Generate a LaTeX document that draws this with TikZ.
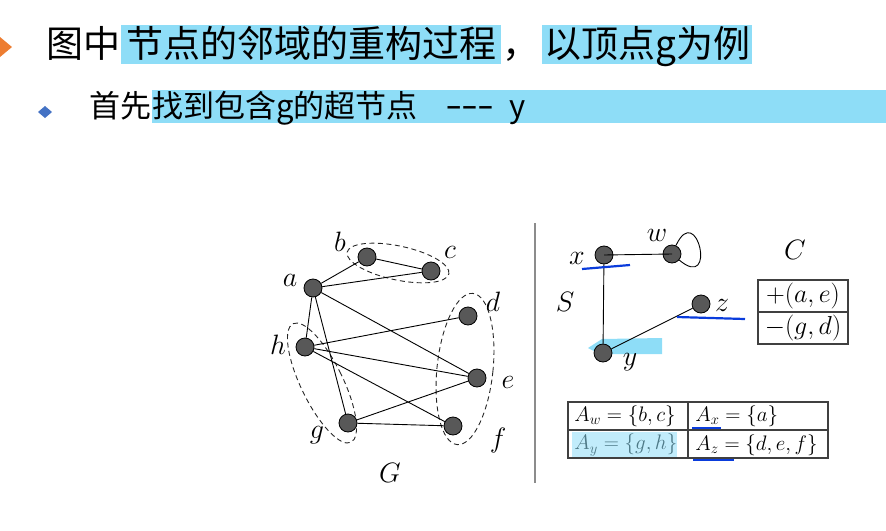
\documentclass[tikz,border=0pt]{standalone}
\usepackage{fix-cm}
\usepackage{fontspec}
\newfontfamily\cjk{Noto Sans CJK SC}
\newfontfamily\latn{Liberation Sans}
\usepackage{tikz}
\usetikzlibrary{positioning,calc}
\definecolor{hlcyan}{RGB}{142,221,247}
\definecolor{inkblue}{RGB}{10,60,220}
\definecolor{nodegray}{RGB}{88,88,88}
\definecolor{mkorange}{RGB}{237,125,49}
\definecolor{mkblue}{RGB}{68,114,196}
\tikzset{
  vtx/.style={circle,draw=black,fill=nodegray,line width=0.8pt,minimum size=18pt,inner sep=0pt},
  lbl/.style={inner sep=0pt,font=\fontsize{28}{33}\selectfont},
  cell/.style={inner sep=0pt,font=\fontsize{21}{25}\selectfont},
  bigcell/.style={inner sep=0pt,font=\fontsize{26}{31}\selectfont},
  grp/.style={draw=black!85,line width=0.9pt,dash pattern=on 5pt off 3.5pt},
  tbl/.style={draw=black!75,line width=1.2pt},
  ul/.style={draw=inkblue,line width=2.2pt},
  hl/.style={fill=hlcyan},
  headA/.style={inner sep=0pt,font=\cjk\fontsize{37}{42}\selectfont,text height=32pt,text depth=7pt},
  headB/.style={inner sep=0pt,font=\cjk\fontsize{31}{36}\selectfont,text height=27pt,text depth=6pt},
}

\begin{document}
\begin{tikzpicture}[x=1pt,y=-1pt,line width=0.9pt]
\useasboundingbox (0,0) rectangle (886,530);

% heading
\fill[mkorange] (0,37) -- (12,47) -- (0,57) -- cycle;
\node[headA,anchor=west] (t1a) at (46,44.5) {图中};
\node[headA,hl,right=0pt of t1a,minimum width=380pt] (t1b) {节点的邻域的重构过程};
\node[headA,right=0pt of t1b] (t1c) {，};
\node[headA,hl,right=2pt of t1c,inner xsep=2pt] (t1d) {以顶点g为例};

\fill[mkblue] (38,112) -- (45,106) -- (52,112) -- (45,118) -- cycle;
\node[headB,anchor=west] (t2a) at (89,106.5) {首先};
\node[headB,hl,right=0pt of t2a,text width=735pt,align=left] (t2b)
  {找到包含g的超节点\hspace{29pt}\raisebox{3pt}{\latn\bfseries\fontsize{25}{30}\selectfont –\kern2pt–\kern2pt–}\hspace{17pt}y};

% graph G
\draw[grp,rotate around={-12:(398,263)}] (398,263) ellipse [x radius=52pt,y radius=17pt];
\draw[grp,rotate around={-6:(465,369)}] (465,369) ellipse [x radius=28pt,y radius=76pt];
\draw[grp,rotate around={26:(322,383)}] (322,383) ellipse [x radius=21pt,y radius=66pt];

\node[vtx] (a) at (313,288) {};
\node[vtx] (b) at (367,257) {};
\node[vtx] (c) at (431,271) {};
\node[vtx] (d) at (468,316) {};
\node[vtx] (h) at (305,347) {};
\node[vtx] (e) at (477,378) {};
\node[vtx] (g) at (348,423) {};
\node[vtx] (f) at (453,426) {};

\draw (a) -- (b) (b) -- (c) (a) -- (c) (a) -- (h) (a) -- (g) (a) -- (e)
      (h) -- (d) (h) -- (e) (h) -- (f) (g) -- (e) (g) -- (f);

\node[lbl] (la) at (290,280) {$a$};
\node[lbl] (lb) at (340,242) {$b$};
\node[lbl] (lc) at (450,252) {$c$};
\node[lbl] (ld) at (493,302) {$d$};
\node[lbl] (lh) at (278,345) {$h$};
\node[lbl] (le) at (508,382) {$e$};
\node[lbl] (lg) at (317,435) {$g$};
\node[lbl] (lf) at (498,440) {$f$};
\node[lbl] (lG) at (390,473) {$G$};

\draw[draw=black!45,line width=1.8pt] (535,223) -- (535,483);

% super graph S
\fill[hlcyan] (588,348) -- (602,339) -- (662,338) -- (662,354) -- (600,354) -- cycle;
\node[vtx] (x) at (604,255) {};
\node[vtx] (w) at (672,254) {};
\node[vtx] (z) at (701,304) {};
\node[vtx] (y) at (603,353) {};
\draw (x.center) -- (w.center) (x) -- (y) (y) -- (z);
\draw (w) to[out=65,in=-40,min distance=50pt] (w);

\node[lbl] (lx) at (577,258) {$x$};
\node[lbl] (lw) at (657,235) {$w$};
\node[lbl] (lz) at (722,305) {$z$};
\node[lbl] (ly) at (630,362) {$y$};
\node[lbl] (lS) at (565,302) {$S$};
\node[lbl] (lC) at (795,250) {$C$};

\draw[ul] (582,269) -- (630,265);
\draw[ul] (677,317) -- (745,319);

% C
\draw[tbl] (758,280) rectangle (848,344) (758,312) -- (848,312);
\node[bigcell] (cplus) at (803,296) {$+(a,e)$};
\node[bigcell] (cminus) at (803,328) {$-(g,d)$};

% A sets
\draw[tbl] (568,402) rectangle (828,458) (688,402) -- (688,458) (568,430) -- (828,430);
\node[cell,anchor=west] (aw) at (574,416) {$A_w=\{b,c\}$};
\node[cell,anchor=west] (ax) at (695,416) {$A_x=\{a\}$};
\node[cell,anchor=west] (ay) at (574,445) {$A_y=\{g,h\}$};
\node[cell,anchor=west] (az) at (695,445) {$A_z=\{d,e,f\}$};
\fill[hlcyan,opacity=0.55] (572,432) rectangle (677,457);
\draw[ul] (692,428) -- (721,428);
\draw[ul] (693,460) -- (734,460);
\end{tikzpicture}
\end{document}
